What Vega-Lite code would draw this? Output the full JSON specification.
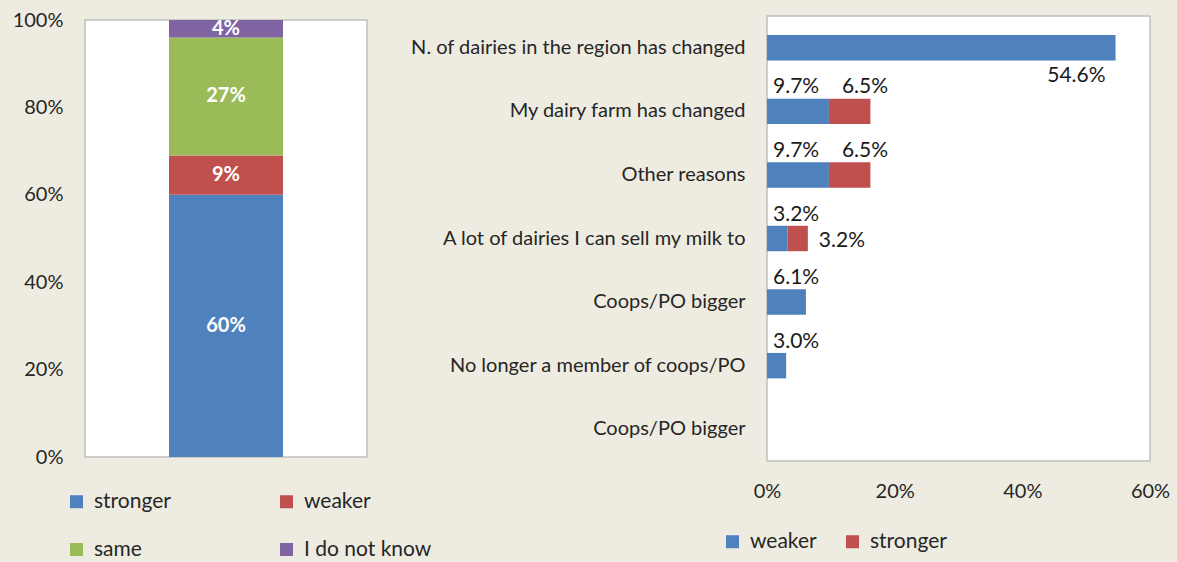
{
  "$schema": "https://vega.github.io/schema/vega-lite/v6.json",
  "background": "#EEECE1",
  "padding": {"left": 11, "top": 9, "right": 30, "bottom": 30},
  "bounds": "flush",
  "center": true,
  "spacing": 400,
  "resolve": {"scale": {"color": "independent"}, "legend": {"color": "independent"}},
  "config": {
    "font": "Lato",
    "view": {"fill": "white", "stroke": "#BFBFBF", "strokeWidth": 1.5},
    "axis": {"labelFont": "Lato", "labelFontSize": 20, "labelColor": "#262626", "domain": false, "ticks": false, "grid": false, "title": null, "labelFlush": false},
    "legend": {"labelFont": "Lato", "labelFontSize": 21, "labelColor": "#262626", "symbolType": "square", "symbolSize": 169, "symbolStrokeWidth": 0, "labelOffset": 7, "title": null}
  },
  "hconcat": [
    {
      "width": 282,
      "height": 437,
      "data": {"values": [
        {"response": "stronger", "share": 0.60, "rank": 1},
        {"response": "weaker", "share": 0.09, "rank": 2},
        {"response": "same", "share": 0.27, "rank": 3},
        {"response": "I do not know", "share": 0.04, "rank": 4}
      ]},
      "transform": [{"stack": "share", "groupby": [], "sort": [{"field": "rank", "order": "ascending"}], "as": ["y0", "y1"]}],
      "encoding": {"x": {"datum": "all", "type": "nominal", "axis": null}},
      "layer": [
        {
          "mark": {"type": "bar", "size": 114},
          "encoding": {
            "y": {"field": "y0", "type": "quantitative", "scale": {"domain": [0, 1], "nice": false}, "axis": {"values": [0, 0.2, 0.4, 0.6, 0.8, 1], "format": ".0%", "labelPadding": 22}},
            "y2": {"field": "y1"},
            "color": {"field": "response", "type": "nominal",
              "scale": {"domain": ["stronger", "same", "weaker", "I do not know"], "range": ["#4F81BD", "#9BBB59", "#C0504D", "#8064A2"]},
              "legend": {"orient": "none", "legendX": -19, "legendY": 471, "columns": 2, "columnPadding": 105, "rowPadding": 26}}
          }
        },
        {
          "transform": [
            {"fold": ["y0", "y1"], "as": ["edge", "pos"]},
            {"aggregate": [{"op": "mean", "field": "pos", "as": "mid"}], "groupby": ["response", "share"]}
          ],
          "mark": {"type": "text", "color": "white", "fontWeight": "bold", "fontSize": 20, "baseline": "middle"},
          "encoding": {
            "y": {"field": "mid", "type": "quantitative"},
            "text": {"field": "share", "type": "quantitative", "format": ".0%"}
          }
        }
      ]
    },
    {
      "width": 383,
      "height": 445,
      "data": {"values": [
        {"reason": "N. of dairies in the region has changed", "weaker": 0.546, "stronger": 0},
        {"reason": "My dairy farm has changed", "weaker": 0.097, "stronger": 0.065},
        {"reason": "Other reasons", "weaker": 0.097, "stronger": 0.065},
        {"reason": "A lot of dairies I can sell my milk to", "weaker": 0.032, "stronger": 0.032},
        {"reason": "Coops/PO bigger", "weaker": 0.061, "stronger": 0},
        {"reason": "No longer a member of coops/PO", "weaker": 0.030, "stronger": 0},
        {"reason": " Coops/PO bigger", "weaker": 0, "stronger": 0}
      ]},
      "transform": [
        {"fold": ["weaker", "stronger"], "as": ["series", "value"]},
        {"stack": "value", "groupby": ["reason"], "sort": [{"field": "series", "order": "descending"}], "as": ["v0", "v1"]}
      ],
      "encoding": {
        "y": {"field": "reason", "type": "nominal", "sort": null, "scale": {"paddingInner": 0.6, "paddingOuter": 0.3}, "axis": {"labelPadding": 22, "labelLimit": 400}}
      },
      "layer": [
        {
          "mark": {"type": "bar"},
          "encoding": {
            "x": {"field": "v0", "type": "quantitative", "scale": {"domain": [0, 0.6], "nice": false}, "axis": {"values": [0, 0.2, 0.4, 0.6], "format": ".0%", "labelPadding": 20}},
            "x2": {"field": "v1"},
            "color": {"field": "series", "type": "nominal",
              "scale": {"domain": ["weaker", "stronger"], "range": ["#4F81BD", "#C0504D"]},
              "legend": {"orient": "none", "direction": "horizontal", "legendX": -45, "legendY": 515, "columnPadding": 25}}
          }
        },
        {
          "transform": [{"filter": "datum.series == 'weaker' && datum.value > 0 && datum.reason != 'N. of dairies in the region has changed'"}],
          "mark": {"type": "text", "align": "left", "baseline": "middle", "dx": 6, "dy": -24, "fontSize": 21, "color": "#1a1a1a"},
          "encoding": {"x": {"field": "v0", "type": "quantitative"}, "text": {"field": "value", "type": "quantitative", "format": ".1%"}}
        },
        {
          "transform": [{"filter": "datum.series == 'weaker' && datum.reason == 'N. of dairies in the region has changed'"}],
          "mark": {"type": "text", "align": "right", "baseline": "middle", "dx": -10, "dy": 28, "fontSize": 21, "color": "#1a1a1a"},
          "encoding": {"x": {"field": "v1", "type": "quantitative"}, "text": {"field": "value", "type": "quantitative", "format": ".1%"}}
        },
        {
          "transform": [{"filter": "datum.series == 'stronger' && datum.value > 0 && datum.reason != 'A lot of dairies I can sell my milk to'"}],
          "mark": {"type": "text", "align": "left", "baseline": "middle", "dx": 13, "dy": -24, "fontSize": 21, "color": "#1a1a1a"},
          "encoding": {"x": {"field": "v0", "type": "quantitative"}, "text": {"field": "value", "type": "quantitative", "format": ".1%"}}
        },
        {
          "transform": [{"filter": "datum.series == 'stronger' && datum.reason == 'A lot of dairies I can sell my milk to'"}],
          "mark": {"type": "text", "align": "left", "baseline": "middle", "dx": 11, "dy": 2, "fontSize": 21, "color": "#1a1a1a"},
          "encoding": {"x": {"field": "v1", "type": "quantitative"}, "text": {"field": "value", "type": "quantitative", "format": ".1%"}}
        }
      ]
    }
  ]
}
